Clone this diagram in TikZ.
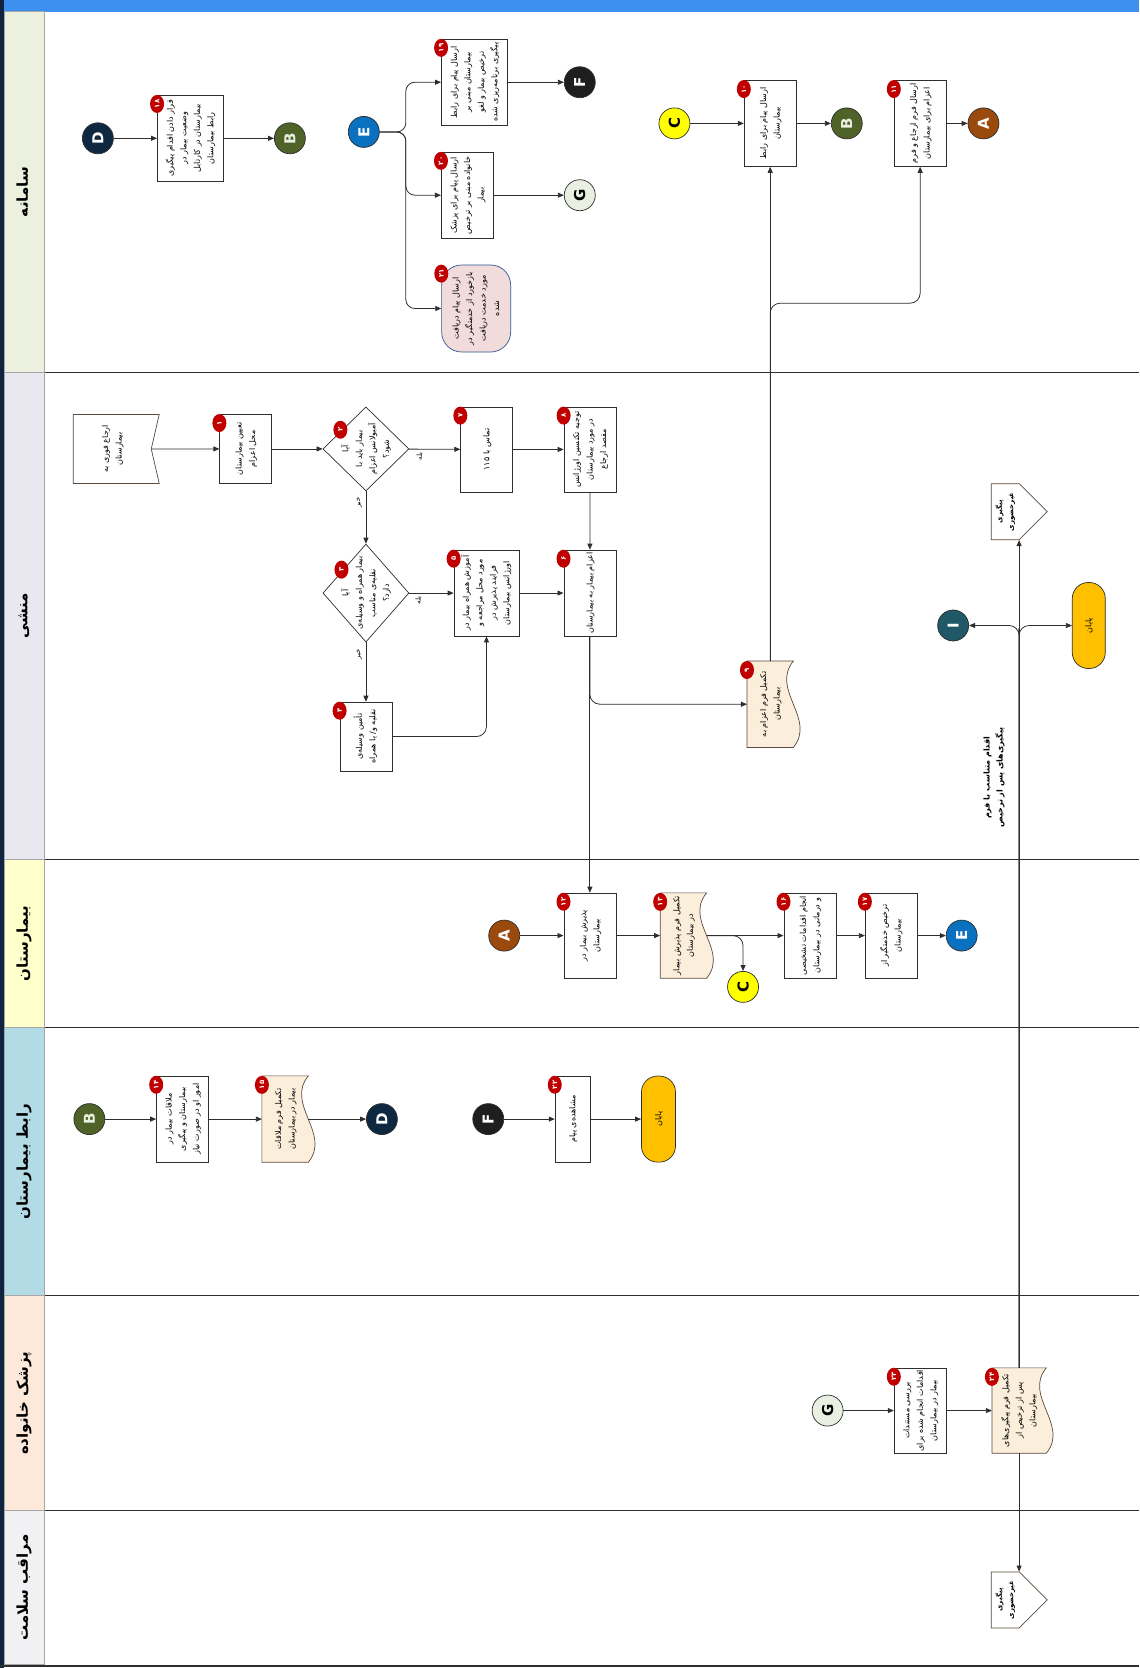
\documentclass[tikz,border=0pt]{standalone}
\usepackage{fontspec}
\usepackage{tikz}
\usetikzlibrary{arrows.meta,positioning,shapes.geometric,shapes.symbols,calc,backgrounds}
\setmainfont{DejaVu Sans}
\newfontfamily\arabicfont[Script=Arabic]{DejaVu Sans}
\TeXXeTstate=1
\definecolor{TopBlue}{HTML}{3D8FF0}
\definecolor{DeepNavy}{HTML}{10243F}
\definecolor{LineGray}{HTML}{2E2E2E}
\definecolor{LaneSys}{HTML}{EBF1DE}
\definecolor{LaneSec}{HTML}{E9E7F0}
\definecolor{LaneHosp}{HTML}{FFFFCC}
\definecolor{LaneLiaison}{HTML}{B2DBE5}
\definecolor{LaneDoctor}{HTML}{FCE9DA}
\definecolor{LaneCare}{HTML}{F1F1F3}
\definecolor{BadgeRed}{HTML}{C00000}
\definecolor{DocBeige}{HTML}{FBEEDB}
\definecolor{DocEdge}{HTML}{5B4A3E}
\definecolor{MsgPink}{HTML}{F2DCDB}
\definecolor{MsgBlue}{HTML}{2F5597}
\definecolor{EndGold}{HTML}{FFC000}
\definecolor{ConA}{HTML}{9A4A0C}
\definecolor{ConB}{HTML}{4F6228}
\definecolor{ConC}{HTML}{FFFF00}
\definecolor{ConD}{HTML}{0E2841}
\definecolor{ConE}{HTML}{0A70C0}
\definecolor{ConF}{HTML}{1E1E1E}
\definecolor{ConG}{HTML}{E9F0E2}
\definecolor{ConI}{HTML}{215868}

% rotated persian text, one line per row
\newcommand{\vt}[1]{\rotatebox{90}{\arabicfont\begin{tabular}{@{}c@{}}#1\end{tabular}}}
\newcommand{\conlet}[1]{\rotatebox{90}{#1}}
\newcommand{\bnum}[1]{\rotatebox{90}{\arabicfont #1}}
% document shape with wavy right side
\newcommand{\wavedoc}[1]{%
  \begin{scope}[on background layer]
    \draw[fill=DocBeige, draw=DocEdge, line width=0.7pt] (#1.north west) -- (#1.north east)
      .. controls ($(#1.north east)!0.333!(#1.south east)+(-22,0)$) and ($(#1.north east)!0.667!(#1.south east)+(22,0)$) .. (#1.south east)
      -- (#1.south west) -- cycle;
  \end{scope}}

\begin{document}
\begin{tikzpicture}[x=1.0635pt, y=-1.0635pt,
  every node/.style={font=\fontsize{8}{13.5}\selectfont, inner sep=1pt},
  task/.style={rectangle, draw=LineGray, fill=white, line width=0.7pt, minimum width=52pt, minimum height=85pt},
  paper/.style={rectangle, minimum width=46pt, minimum height=85pt},
  decide/.style={diamond, draw=LineGray, fill=white, line width=0.7pt, minimum width=86pt, minimum height=84pt, inner sep=0pt},
  con/.style={circle, draw=LineGray, line width=0.7pt, minimum size=31pt, inner sep=0pt, font=\fontsize{15}{15}\selectfont\bfseries},
  badge/.style={ellipse, fill=BadgeRed, text=white, minimum width=14pt, minimum height=18pt, inner sep=0pt, font=\fontsize{7}{7}\selectfont\bfseries},
  offpage/.style={signal, signal to=east, signal pointer angle=90, draw=DocEdge, fill=white, line width=0.7pt, minimum width=56pt, minimum height=56pt, inner sep=0pt, font=\fontsize{7}{11.5}\selectfont\bfseries},
  finish/.style={rectangle, rounded corners=16pt, draw=LineGray, fill=EndGold, line width=0.7pt, minimum width=33pt, minimum height=86pt},
  flow/.style={draw=LineGray, line width=0.8pt, -{Triangle[length=6pt,width=5pt]}},
  swim/.style={draw=LineGray, line width=1.3pt},
  lanehead/.style={rectangle, draw=gray!70, line width=0.7pt, minimum width=40pt, font=\fontsize{15}{15}\selectfont\bfseries},
  answer/.style={font=\fontsize{7}{8}\selectfont}]
  \useasboundingbox (0,0) rectangle (1071,1568);

  % lanes
  \fill[TopBlue] (0,0) rectangle (1071,11);
  \fill[DeepNavy] (0,0) rectangle (4,1568);
  \node[lanehead, fill=LaneSys,     minimum height=360.5pt] (hsys)  at (23,180.5) {\vt{\beginR سامانه\endR}};
  \node[lanehead, fill=LaneSec,     minimum height=487pt]   (hsec)  at (23,579)   {\vt{\beginR منشی\endR}};
  \node[lanehead, fill=LaneHosp,    minimum height=168pt]   (hhosp) at (23,887)   {\vt{\beginR بیمارستان\endR}};
  \node[lanehead, fill=LaneLiaison, minimum height=268pt]   (hlia)  at (23,1092)  {\vt{\beginR رابط بیمارستان\endR}};
  \node[lanehead, fill=LaneDoctor,  minimum height=214.8pt] (hdoc)  at (23,1319)  {\vt{\beginR پزشک خانواده\endR}};
  \node[lanehead, fill=LaneCare,    minimum height=154.2pt] (hcare) at (23,1492.5){\vt{\beginR مراقب سلامت\endR}};
  \draw[swim] (42,350) -- (1071,350);
  \draw[swim] (42,808) -- (1071,808);
  \draw[swim] (42,966) -- (1071,966);
  \draw[swim] (42,1218) -- (1071,1218);
  \draw[swim] (42,1420) -- (1071,1420);
  \draw[swim] (0,1566) -- (1071,1566);

  % system lane
  \node[con, fill=ConD, text=white] (D1) at (92,130) {\conlet{D}};
  \node[task, minimum width=66pt, minimum height=86pt] (n18) at (179,130) {\vt{\beginR قرار دادن اقدام پیگیری\endR\\\beginR وضعیت بیمار در\endR\\\beginR بیمارستان در کارتابل\endR\\\beginR رابط بیمارستان\endR}};
  \node[con, fill=ConB, text=ConG] (B1) at (272.5,130) {\conlet{B}};
  \node[con, fill=ConE, text=white] (E1) at (342,124) {\conlet{E}};
  \node[task, minimum width=66pt, minimum height=86pt] (n19) at (446,77.3) {\vt{\beginR ارسال پیام برای رابط\endR\\\beginR بیمارستان مبنی بر\endR\\\beginR ترخیص بیمار و لغو\endR\\\beginR پیگیری برنامه‌ریزی شده\endR}};
  \node[con, fill=ConF, text=white] (F1) at (545,77.3) {\conlet{F}};
  \node[task, minimum height=86pt] (n20) at (439.3,183.5) {\vt{\beginR ارسال پیام برای پزشک\endR\\\beginR خانواده مبنی بر ترخیص\endR\\\beginR بیمار\endR}};
  \node[con, fill=ConG] (G1) at (545,183.5) {\conlet{G}};
  \node[rectangle, rounded corners=20pt, draw=MsgBlue, fill=MsgPink, line width=0.7pt, minimum width=69pt, minimum height=87pt] (n21) at (447.6,290) {\vt{\beginR ارسال پیام دریافت\endR\\\beginR بازخورد از خدمتگیر در\endR\\\beginR مورد خدمت دریافت\endR\\\beginR شده\endR}};
  \node[con, fill=ConC] (C1) at (634,116) {\conlet{C}};
  \node[task, minimum height=86pt] (n10) at (724,116) {\vt{\beginR ارسال پیام برای رابط\endR\\\beginR بیمارستان\endR}};
  \node[con, fill=ConB, text=ConG] (B2) at (796,116) {\conlet{B}};
  \node[task, minimum height=86pt] (n11) at (865,116) {\vt{\beginR ارسال فرم ارجاع و فرم\endR\\\beginR اعزام برای بیمارستان\endR}};
  \node[con, fill=ConA, text=white] (A1) at (924.5,116) {\conlet{A}};

  % secretary lane
  \node[signal, signal to=nowhere, signal from=east, signal pointer angle=154, draw=DocEdge, fill=white, line width=0.7pt, minimum width=86pt, minimum height=69pt] (start) at (105.5,422) {\vt{\beginR ارجاع فوری به\endR\\\beginR بیمارستان\endR}};
  \node[task, minimum height=69pt] (n1) at (231,422) {\vt{\beginR تعیین بیمارستان\endR\\\beginR محل اعزام\endR}};
  \node[decide, label={center:\vt{\beginR آیا\endR\\\beginR بیمار باید با\endR\\\beginR آمبولانس اعزام\endR\\\beginR شود؟\endR}}] (d2) at (344,422) {};
  \node[task] (n7) at (457.5,422.5) {\vt{\beginR تماس با ۱۱۵\endR}};
  \node[task] (n8) at (554.6,422.5) {\vt{\beginR توجیه تکنسین اورژانس\endR\\\beginR در مورد بیمارستان\endR\\\beginR مقصد ارجاع\endR}};
  \node[decide, minimum height=98pt, label={center:\vt{\beginR آیا\endR\\\beginR بیمار همراه و وسیله‌ی\endR\\\beginR نقلیه‌ی مناسب\endR\\\beginR دارد؟\endR}}] (d3) at (344,557.5) {};
  \node[task, minimum width=65pt, minimum height=86pt] (n5) at (457.3,557.5) {\vt{\beginR آموزش همراه بیمار در\endR\\\beginR مورد محل مراجعه و\endR\\\beginR فرایند پذیرش در\endR\\\beginR اورژانس بیمارستان\endR}};
  \node[task, minimum height=86pt] (n6) at (554.5,557.5) {\vt{\beginR اعزام بیمار به بیمارستان\endR}};
  \node[task, minimum height=69pt] (n4) at (344,692.4) {\vt{\beginR تأمین وسیله‌ی\endR\\\beginR نقلیه و/ یا همراه\endR}};
  \node[paper, minimum height=86pt] (n9) at (724,662) {\vt{\beginR تکمیل فرم اعزام به\endR\\\beginR بیمارستان\endR}};
  \wavedoc{n9}
  \node[offpage] (off1) at (945,481) {\vt{\beginR پیگیری\endR\\\beginR غیرحضوری\endR}};
  \node[con, fill=ConI, text=white] (I1) at (896,588) {\conlet{I}};
  \node[finish] (end1) at (1023.5,588) {\vt{\beginR پایان\endR}};
  \node[font=\fontsize{8}{13}\selectfont\bfseries] (note1) at (934,731) {\vt{\beginR اقدام متناسب با فرم\endR\\\beginR پیگیری‌های پس از ترخیص\endR}};

  % hospital lane
  \node[con, fill=ConA, text=white] (A2) at (474,879.5) {\conlet{A}};
  \node[task] (n12) at (554.5,879.5) {\vt{\beginR پذیرش بیمار در\endR\\\beginR بیمارستان\endR}};
  \node[paper] (n13) at (642.4,879.5) {\vt{\beginR تکمیل فرم پذیرش بیمار\endR\\\beginR در بیمارستان\endR}};
  \wavedoc{n13}
  \node[con, fill=ConC] (C2) at (698.5,927.7) {\conlet{C}};
  \node[task] (n16) at (761.3,879.5) {\vt{\beginR انجام اقدامات تشخیصی\endR\\\beginR و درمانی در بیمارستان\endR}};
  \node[task] (n17) at (837.8,879.5) {\vt{\beginR ترخیص خدمتگیر از\endR\\\beginR بیمارستان\endR}};
  \node[con, fill=ConE, text=white] (E2) at (904,879.5) {\conlet{E}};

  % liaison lane
  \node[con, fill=ConB, text=ConG] (B3) at (84,1052) {\conlet{B}};
  \node[task, minimum height=86pt] (n14) at (171.6,1052) {\vt{\beginR ملاقات بیمار در\endR\\\beginR بیمارستان و پیگیری\endR\\\beginR امور او در صورت نیاز\endR}};
  \node[paper, minimum height=86pt] (n15) at (268,1052) {\vt{\beginR تکمیل فرم ملاقات\endR\\\beginR بیمار در بیمارستان\endR}};
  \wavedoc{n15}
  \node[con, fill=ConD, text=white] (D2) at (359,1052) {\conlet{D}};
  \node[con, fill=ConF, text=white] (F2) at (459,1052) {\conlet{F}};
  \node[task, minimum width=35pt, minimum height=86pt] (n22) at (538.3,1052) {\vt{\beginR مشاهده‌ی پیام\endR}};
  \node[finish, minimum width=34pt] (end2) at (619,1052) {\vt{\beginR پایان\endR}};

  % family doctor lane
  \node[con, fill=ConG] (G2) at (778,1326) {\conlet{G}};
  \node[task] (n23) at (865,1326) {\vt{\beginR بررسی مستندات\endR\\\beginR اقدامات انجام شده برای\endR\\\beginR بیمار در بیمارستان\endR}};
  \node[paper, minimum width=54pt] (n24) at (958,1326) {\vt{\beginR تکمیل فرم پیگیری‌های\endR\\\beginR پس از ترخیص از\endR\\\beginR بیمارستان\endR}};
  \wavedoc{n24}

  % health carer lane
  \node[offpage] (off2) at (945,1504) {\vt{\beginR پیگیری\endR\\\beginR غیرحضوری\endR}};

  % step numbers
  \node[badge] (b1)  at ([yshift=-9pt]n1.north west)  {\bnum{۱}};
  \node[badge] (b2)  at ($(d2)+(-24,-18)$)            {\bnum{۲}};
  \node[badge] (b3)  at ($(d3)+(-23,-22)$)            {\bnum{۳}};
  \node[badge] (b4)  at ([yshift=-9pt]n4.north west)  {\bnum{۴}};
  \node[badge] (b5)  at ([yshift=-9pt]n5.north west)  {\bnum{۵}};
  \node[badge] (b6)  at ([yshift=-9pt]n6.north west)  {\bnum{۶}};
  \node[badge] (b7)  at ([yshift=-9pt]n7.north west)  {\bnum{۷}};
  \node[badge] (b8)  at ([yshift=-9pt]n8.north west)  {\bnum{۸}};
  \node[badge] (b9)  at ([yshift=-9pt]n9.north west)  {\bnum{۹}};
  \node[badge] (b10) at ([yshift=-9pt]n10.north west) {\bnum{۱۰}};
  \node[badge] (b11) at ([yshift=-9pt]n11.north west) {\bnum{۱۱}};
  \node[badge] (b12) at ([yshift=-9pt]n12.north west) {\bnum{۱۲}};
  \node[badge] (b13) at ([yshift=-9pt]n13.north west) {\bnum{۱۳}};
  \node[badge] (b14) at ([yshift=-9pt]n14.north west) {\bnum{۱۴}};
  \node[badge] (b15) at ([yshift=-9pt]n15.north west) {\bnum{۱۵}};
  \node[badge] (b16) at ([yshift=-9pt]n16.north west) {\bnum{۱۶}};
  \node[badge] (b17) at ([yshift=-9pt]n17.north west) {\bnum{۱۷}};
  \node[badge] (b18) at ([yshift=-9pt]n18.north west) {\bnum{۱۸}};
  \node[badge] (b19) at ([yshift=-9pt]n19.north west) {\bnum{۱۹}};
  \node[badge] (b20) at ([yshift=-9pt]n20.north west) {\bnum{۲۰}};
  \node[badge] (b21) at ([yshift=-9pt]n21.north west) {\bnum{۲۱}};
  \node[badge] (b22) at ([yshift=-9pt]n22.north west) {\bnum{۲۲}};
  \node[badge] (b23) at ([yshift=-9pt]n23.north west) {\bnum{۲۳}};
  \node[badge] (b24) at ([yshift=-9pt]n24.north west) {\bnum{۲۴}};

  % connectors
  \draw[flow] (D1) -- (n18);
  \draw[flow] (n18) -- (B1);
  \draw[flow, rounded corners=9pt] (E1) -- (381.5,124) |- (n19);
  \draw[flow, rounded corners=9pt] (E1) -- (381.5,124) |- (n20);
  \draw[flow, rounded corners=9pt] (E1) -- (381.5,124) |- (n21);
  \draw[flow] (n19) -- (F1);
  \draw[flow] (n20) -- (G1);
  \draw[flow] (C1) -- (n10);
  \draw[flow] (n10) -- (B2);
  \draw[flow] (n11) -- (A1);
  \draw[flow] (n9) -- (n10);
  \draw[flow, rounded corners=10pt] (n9) -- (724,285) -| (n11);

  \draw[flow] (start) -- (n1);
  \draw[flow] (n1) -- (d2);
  \draw[flow] (d2) -- node[answer, pos=0.22, below=2pt] (yes1) {\vt{\beginR بله\endR}} (n7);
  \draw[flow] (n7) -- (n8);
  \draw[flow] (n8) -- (n6);
  \draw[flow] (d2) -- node[answer, pos=0.22, left=2pt] (no1) {\vt{\beginR خیر\endR}} (d3);
  \draw[flow] (d3) -- node[answer, pos=0.22, below=2pt] (yes2) {\vt{\beginR بله\endR}} (n5);
  \draw[flow] (d3) -- node[answer, pos=0.2, left=2pt] (no2) {\vt{\beginR خیر\endR}} (n4);
  \draw[flow, rounded corners=10pt] (n4) -| (n5);
  \draw[flow] (n5) -- (n6);
  \draw[flow] (n6) -- (n12);
  \draw[flow, rounded corners=10pt] (n6) |- (n9);

  \draw[flow] (A2) -- (n12);
  \draw[flow] (n12) -- (n13);
  \draw[flow] (n13) -- (n16);
  \draw[flow, rounded corners=10pt] (n13) -| (C2);
  \draw[flow] (n16) -- (n17);
  \draw[flow] (n17) -- (E2);

  \draw[flow] (B3) -- (n14);
  \draw[flow] (n14) -- (n15);
  \draw[flow] (n15) -- (D2);
  \draw[flow] (F2) -- (n22);
  \draw[flow] (n22) -- (end2);

  \draw[flow] (G2) -- (n23);
  \draw[flow] (n23) -- (n24);
  \draw[flow] (n24) -- (n24 |- off1.south);
  \draw[flow] (n24) -- (n24 |- off2.north);
  \draw[flow, rounded corners=10pt] (n24) -- (958,600) |- (I1);
  \draw[flow, rounded corners=10pt] (n24) -- (958,600) |- (end1);
\end{tikzpicture}
\end{document}
